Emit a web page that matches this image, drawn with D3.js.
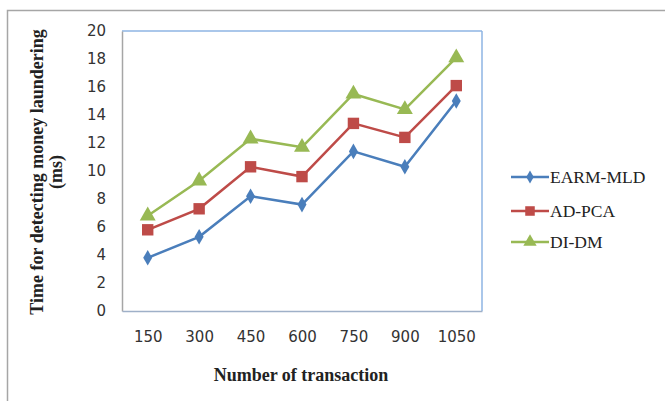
<!DOCTYPE html>
<html><head><meta charset="utf-8">
<script src="https://cdn.jsdelivr.net/npm/d3@7"></script>
<style>body{margin:0;background:#fff}svg{display:block}</style>
</head><body>
<svg id="c" width="665" height="401"></svg>
<script>
const categories = ["150","300","450","600","750","900","1050"];
const earm = [3.8,5.3,8.2,7.6,11.4,10.3,15.0];
const adpca = [5.8,7.3,10.3,9.6,13.4,12.4,16.1];
const didm = [6.8,9.3,12.3,11.7,15.5,14.4,18.1];
const yTicks = [0,2,4,6,8,10,12,14,16,18,20];
const seriesNames = ["EARM-MLD","AD-PCA","DI-DM"];

const series = [
  {name: seriesNames[0], values: earm, color: "#4a7ebb", shape: d3.symbolDiamond, size: 70},
  {name: seriesNames[1], values: adpca, color: "#be4b48", shape: d3.symbolSquare, size: 130},
  {name: seriesNames[2], values: didm, color: "#98b954", shape: d3.symbolTriangle, size: 110}
];

const svg = d3.select("#c");
// outer frame
svg.append("path").attr("d","M7.5,401 V10.5 H665").attr("fill","none").attr("stroke","#a6a6a6").attr("stroke-width",1.5);

const L=122, T=31, R=482, B=311;
const x = d3.scalePoint().domain(categories).range([L,R]).padding(0.5);
const y = d3.scaleLinear().domain([0,20]).range([B,T]);

// plot box
svg.append("line").attr("x1",L).attr("x2",R).attr("y1",T).attr("y2",T).attr("stroke","#8eb4e3").attr("stroke-width",1.5);
svg.append("line").attr("x1",R).attr("x2",R).attr("y1",T).attr("y2",B).attr("stroke","#8eb4e3").attr("stroke-width",1.5);

const yAxis = svg.append("g").attr("transform",`translate(${L},0)`)
  .call(d3.axisLeft(y).tickValues(yTicks).tickSize(0).tickPadding(16));
yAxis.select(".domain").attr("stroke","#a6a6a6").attr("stroke-width",1.5);
yAxis.selectAll("text").attr("font-family","DejaVu Sans").attr("font-size",15).attr("fill","#333");

const xAxis = svg.append("g").attr("transform",`translate(0,${B})`)
  .call(d3.axisBottom(x).tickSize(0).tickPadding(20));
xAxis.select(".domain").attr("stroke","#9fb0c8").attr("stroke-width",1.5);
xAxis.selectAll("text").attr("font-family","DejaVu Sans").attr("font-size",15).attr("fill","#333");

const line = d3.line().x((d,i)=>x(categories[i])).y(d=>y(d));
series.forEach(s=>{
  svg.append("path").datum(s.values).attr("d",line).attr("fill","none").attr("stroke",s.color).attr("stroke-width",2.5);
  svg.selectAll(null).data(s.values).enter().append("path")
    .attr("d",d3.symbol().type(s.shape).size(s.size))
    .attr("transform",(d,i)=>`translate(${x(categories[i])},${y(d)})`)
    .attr("fill",s.color);
});

// axis titles
svg.append("text").attr("x",301).attr("y",381).attr("text-anchor","middle")
  .attr("font-family","Liberation Serif").attr("font-weight","bold").attr("font-size",18).attr("fill","#222")
  .text("Number of transaction");
const yt = svg.append("text").attr("transform","translate(43,172) rotate(-90)").attr("text-anchor","middle")
  .attr("font-family","Liberation Serif").attr("font-weight","bold").attr("font-size",18).attr("fill","#222");
yt.append("tspan").attr("x",0).attr("dy",0).text("Time for detecting money laundering");
yt.append("tspan").attr("x",0).attr("dy",19).text("(ms)");

// legend
const legY = [177,211,242];
series.forEach((s,i)=>{
  const g = svg.append("g").attr("transform",`translate(511,${legY[i]})`);
  g.append("line").attr("x1",0).attr("x2",38).attr("stroke",s.color).attr("stroke-width",2.5);
  g.append("path").attr("d",d3.symbol().type(s.shape).size(s.size*0.7)).attr("transform","translate(19,0)").attr("fill",s.color);
  g.append("text").attr("x",39).attr("y",6).attr("font-family","Liberation Serif").attr("font-size",17.5).attr("fill","#222").text(s.name);
});
</script>
</body></html>
